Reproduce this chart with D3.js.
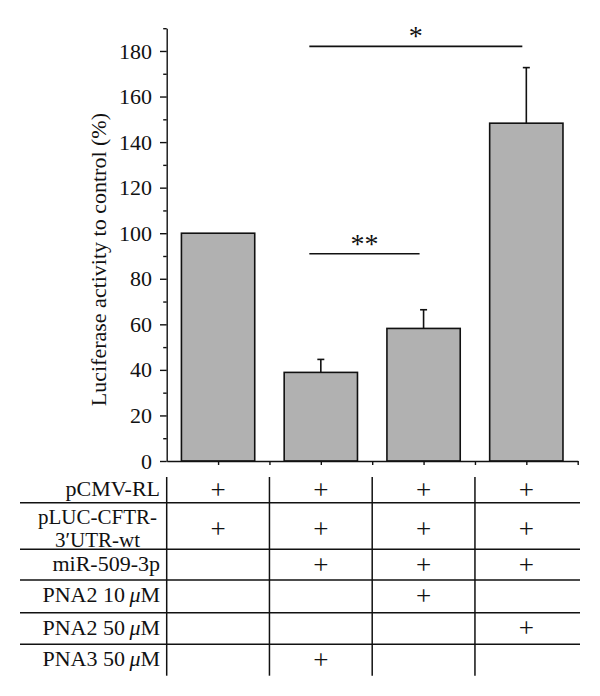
<!DOCTYPE html>
<html>
<head>
<meta charset="utf-8">
<script src="https://cdn.jsdelivr.net/npm/d3@7"></script>
<style>
  body { margin: 0; background: #fff; }
  svg { display: block; }
  text { font-family: "Liberation Serif", "DejaVu Serif", serif; fill: #111; }
</style>
</head>
<body>
<div id="chart"></div>
<script>
// Data
const groups = ["control", "PNA3 50", "PNA2 10", "PNA2 50"];
const values = [100, 38.9, 58.2, 148.3];
const errors = [0, 5.7, 8.2, 24.4];
const yTicks = [0, 20, 40, 60, 80, 100, 120, 140, 160, 180];
const yLabel = "Luciferase activity to control (%)";

// significance brackets: first group index, last group index, height (value units), label
const brackets = [
    { from: 1, to: 3, level: 182, label: "*" },
    { from: 1, to: 2, level: 91, label: "**" }
];

// condition table under the bars
const rowLabels = [
    ["pCMV-RL"],
    ["pLUC-CFTR-", "3\u2032UTR-wt"],
    ["miR-509-3p"],
    ["PNA2 10\u2009\u03bcM"],
    ["PNA2 50\u2009\u03bcM"],
    ["PNA3 50\u2009\u03bcM"]
];
const rowMarks = [
    [1, 1, 1, 1],
    [1, 1, 1, 1],
    [0, 1, 1, 1],
    [0, 0, 1, 0],
    [0, 0, 0, 1],
    [0, 1, 0, 0]
];

// Layout
const width = 600, height = 696;
const plotLeft = 166.7, plotRight = 577.7;
const plotBottom = 461, plotTop = 28.2;
const tableTop = 477;
const rowHeights = [25.7, 46.6, 30.7, 32.7, 31.6, 31.4];
const tickFont = 22;
const labelFont = 22;

const svg = d3.select("#chart")
    .append("svg")
    .attr("width", width)
    .attr("height", height);

// Scales
const x = d3.scaleBand()
    .domain(groups)
    .range([plotLeft, plotRight])
    .paddingInner(0.2866)
    .paddingOuter(0.1433);

const xSteps = d3.scaleLinear()
    .domain([0, groups.length])
    .range([plotLeft, plotRight]);

const y = d3.scaleLinear()
    .domain([0, 190])
    .range([plotBottom, plotTop]);

const cx = i => x(groups[i]) + x.bandwidth() / 2;

// Bars
svg.append("g")
    .selectAll("rect")
    .data(values)
    .join("rect")
    .attr("x", (d, i) => x(groups[i]))
    .attr("y", d => y(d))
    .attr("width", x.bandwidth())
    .attr("height", d => y(0) - y(d))
    .attr("fill", "#b1b1b1")
    .attr("stroke", "#111")
    .attr("stroke-width", 1.6);

// Error bars (upper only)
const err = svg.append("g")
    .attr("stroke", "#111")
    .attr("stroke-width", 1.6);
values.forEach((v, i) => {
    if (!errors[i]) return;
    err.append("line")
        .attr("x1", cx(i)).attr("x2", cx(i))
        .attr("y1", y(v)).attr("y2", y(v + errors[i]));
    err.append("line")
        .attr("x1", cx(i) - 3.5).attr("x2", cx(i) + 3.5)
        .attr("y1", y(v + errors[i])).attr("y2", y(v + errors[i]));
});

// Y axis: major and minor ticks
const yAxis = svg.append("g")
    .attr("transform", `translate(${plotLeft},0)`)
    .call(d3.axisLeft(y)
        .tickValues(yTicks)
        .tickSize(6.7)
        .tickSizeOuter(0)
        .tickPadding(8));
yAxis.selectAll("text")
    .style("font-size", tickFont + "px");

svg.append("g")
    .attr("transform", `translate(${plotLeft},0)`)
    .call(d3.axisLeft(y)
        .tickValues(d3.range(10, 191, 20))
        .tickSize(3.5)
        .tickFormat(""))
    .call(g => g.select(".domain").remove());

// X axis: ticks at centers and boundaries
svg.append("g")
    .attr("transform", `translate(0,${plotBottom})`)
    .call(d3.axisBottom(xSteps)
        .tickValues(d3.range(1, 2 * groups.length + 1).map(d => d / 2))
        .tickSize(4)
        .tickSizeOuter(0)
        .tickFormat(""));

svg.selectAll(".domain, .tick line")
    .attr("stroke", "#111")
    .attr("stroke-width", 1.4);

// Y label
svg.append("text")
    .attr("transform", `translate(106,${(plotTop + plotBottom) / 2 + 15}) rotate(-90)`)
    .attr("text-anchor", "middle")
    .style("font-size", "22px")
    .text(yLabel);

// Significance brackets
brackets.forEach(b => {
    const x1 = cx(b.from) - 11.5;
    const x2 = cx(b.to) - 4;
    svg.append("line")
        .attr("x1", x1).attr("x2", x2)
        .attr("y1", y(b.level)).attr("y2", y(b.level))
        .attr("stroke", "#111")
        .attr("stroke-width", 1.6);
    svg.append("text")
        .attr("x", (x1 + x2) / 2)
        .attr("y", y(b.level) - 1)
        .attr("text-anchor", "middle")
        .style("font-size", "28px")
        .text(b.label);
});

// Table
const rowTops = [];
rowHeights.reduce((acc, h) => { rowTops.push(acc); return acc + h; }, tableTop);
const tableBottom = tableTop + d3.sum(rowHeights);
const table = svg.append("g");

// horizontal separators
rowTops.slice(1).forEach(t => {
    table.append("line")
        .attr("x1", 20).attr("x2", 580)
        .attr("y1", t).attr("y2", t)
        .attr("stroke", "#111")
        .attr("stroke-width", 1.5);
});

// vertical separators at band boundaries
d3.range(0, groups.length).forEach(k => {
    table.append("line")
        .attr("x1", xSteps(k)).attr("x2", xSteps(k))
        .attr("y1", tableTop).attr("y2", tableBottom)
        .attr("stroke", "#111")
        .attr("stroke-width", 1.5);
});

// labels
function addLabel(sel, str) {
    const parts = str.split("\u03bc");
    sel.append("tspan").text(parts[0]);
    if (parts.length > 1) {
        sel.append("tspan").style("font-style", "italic").text("\u03bc");
        sel.append("tspan").text(parts[1]);
    }
}

const labelRight = 160;
rowLabels.forEach((lines, r) => {
    const mid = rowTops[r] + rowHeights[r] / 2;
    if (lines.length === 1) {
        const t = table.append("text")
            .attr("x", labelRight)
            .attr("y", mid + 6)
            .attr("text-anchor", "end")
            .style("font-size", labelFont + "px");
        addLabel(t, lines[0]);
    } else {
        // two centred lines in one text block, right-aligned as a whole
        const t = table.append("text")
            .style("font-size", "21px");
        const first = t.append("tspan")
            .attr("x", labelRight - 3)
            .attr("y", rowTops[r] + 21)
            .attr("text-anchor", "end")
            .text(lines[0]);
        const w = first.node().getComputedTextLength();
        t.append("tspan")
            .attr("x", labelRight - 3 - w / 2)
            .attr("y", rowTops[r] + 44)
            .attr("text-anchor", "middle")
            .text(lines[1]);
    }
    // plus marks
    rowMarks[r].forEach((m, i) => {
        if (!m) return;
        table.append("text")
            .attr("x", cx(i))
            .attr("y", mid + (lines.length > 1 ? 3 : 0))
            .attr("dy", "0.33em")
            .attr("text-anchor", "middle")
            .style("font-size", "27px")
            .text("+");
    });
});
</script>
</body>
</html>
